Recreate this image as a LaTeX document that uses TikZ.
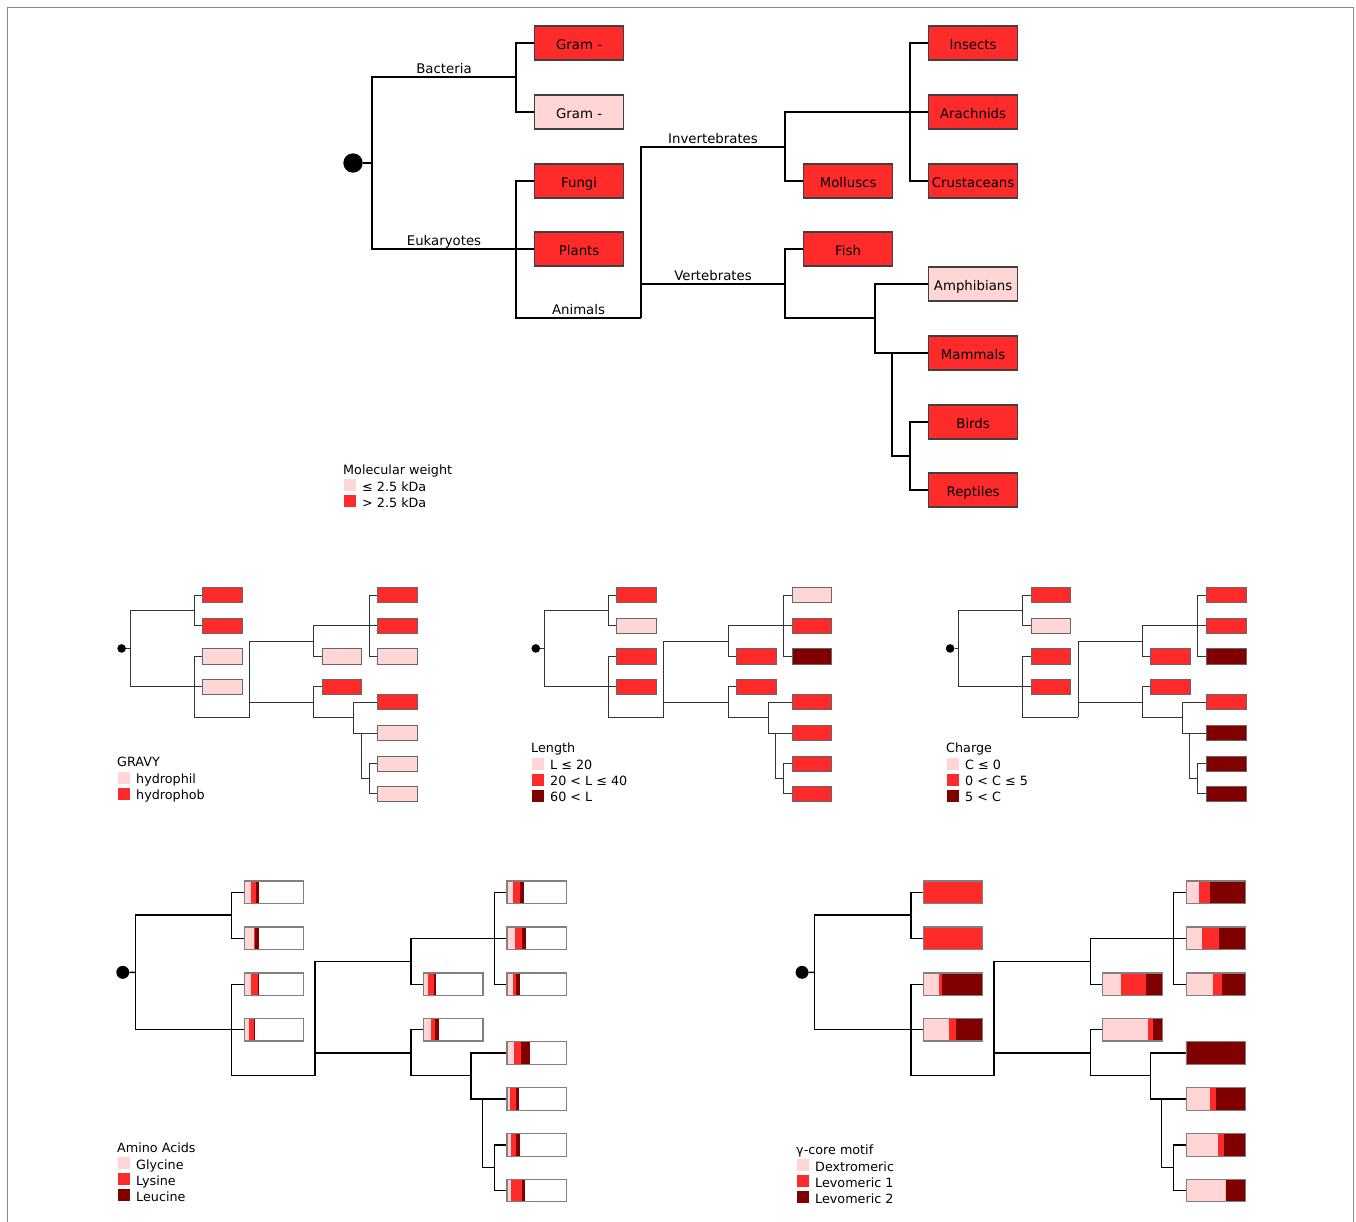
\documentclass[tikz,border=0pt]{standalone}
\usepackage{fontspec}
\setmainfont{DejaVu Sans}
\usetikzlibrary{calc}

\definecolor{pale}{HTML}{FFD5D5}
\definecolor{bright}{HTML}{FF2A2A}
\definecolor{deep}{HTML}{800000}

\tikzset{
  branch/.style={line width=2pt, black},
  leafline/.style={draw=black!75, line width=1.2pt},
  leafbox/.style={shape=rectangle, anchor=west, inner sep=0pt, minimum width=#1*89pt, minimum height=#1*34pt, leafline},
  rootdot/.style={shape=circle, fill=black, inner sep=0pt, minimum size=#1*19.4pt},
  leaftext/.style={font=\fontsize{13.3}{16}\selectfont, text height=12pt, text depth=0pt},
  branchlabel/.style={font=\fontsize{13.3}{16}\selectfont, anchor=base, inner sep=0pt, yshift=4pt},
  keytitle/.style={font=\fontsize{12.75}{15}\selectfont, anchor=base west, inner sep=0pt},
  keyswatch/.style={shape=rectangle, anchor=north west, inner sep=0pt, minimum size=12pt},
  keytext/.style={font=\fontsize{12.75}{15}\selectfont, anchor=base west, inner sep=0pt}
}

% the tree, in the units of the large copy
\newcommand{\phylotree}[1]{%
  \coordinate (root) at (372,163);
  \coordinate (bacteria) at (516,77);
  \coordinate (eukaryotes) at (516,249);
  \coordinate (animals) at (641,318);
  \coordinate (invertebrates) at (785,147);
  \coordinate (vertebrates) at (785,284);
  \coordinate (arthropods) at (910,112);
  \coordinate (tetrapods) at (875,318);
  \coordinate (amniotes) at (892,353);
  \coordinate (sauropsids) at (910,456);
  % leaves (west side of the boxes)
  \coordinate (gramA) at (534,43);
  \coordinate (gramB) at (534,112);
  \coordinate (fungi) at (534,181);
  \coordinate (plants) at (534,249);
  \coordinate (molluscs) at (803,181);
  \coordinate (fish) at (803,249);
  \coordinate (insects) at (928,43);
  \coordinate (arachnids) at (928,112);
  \coordinate (crustaceans) at (928,181);
  \coordinate (amphibians) at (928,284);
  \coordinate (mammals) at (928,353);
  \coordinate (birds) at (928,422);
  \coordinate (reptiles) at (928,490);
  \node[rootdot=#1] (rootdot) at (353,163) {};
  \draw[branch] (rootdot) -- (root);
  \foreach \from/\to in {root/bacteria, root/eukaryotes, bacteria/gramA, bacteria/gramB,
      eukaryotes/fungi, eukaryotes/plants, eukaryotes/animals, animals/invertebrates,
      animals/vertebrates, invertebrates/arthropods, invertebrates/molluscs,
      arthropods/insects, arthropods/arachnids, arthropods/crustaceans,
      vertebrates/fish, vertebrates/tetrapods, tetrapods/amphibians, tetrapods/amniotes,
      amniotes/mammals, amniotes/sauropsids, sauropsids/birds, sauropsids/reptiles}
    \draw[branch] (\from) |- (\to);
}

% stacked bars in the leaves of the large-scale copies
\newcommand{\barleaves}[1]{%
  \foreach \leaf/\first/\second/\third in {#1} {
    \fill[pale] (\leaf) ++(0,-17) rectangle ++(\first,34);
    \fill[bright] (\leaf) ++(\first,-17) rectangle ++(\second,34);
    \fill[deep] (\leaf) ++(\first+\second,-17) rectangle ++(\third,34);
    \node[leafbox=0.667] (\leaf-box) at (\leaf) {};
  }
}

% legend: name, title position, title, tone/text list
\newcommand{\keybox}[4]{%
  \node[keytitle] (#1) at #2 {#3};
  \foreach \tone/\txt [count=\i] in {#4} {
    \node[keyswatch, fill=\tone] (#1-sw\i) at ($(#1.base west)+(0.5,5+16*\i-16)$) {};
    \node[keytext] (#1-txt\i) at ($(#1.base west)+(19,17+16*\i-16)$) {\txt};
  }
}

\begin{document}
\begin{tikzpicture}[x=1pt, y=-1pt]

\useasboundingbox (0,0) rectangle (1356,1221);
\draw[black!45, line width=1.5pt] (7.5,1230) |- (1353.5,7.5) -- (1353.5,1230);

% molecular weight
\begin{scope}[name prefix=mw-]
\phylotree{1}
\foreach \leaf/\tone/\leaftxt in {gramA/bright/Gram -, gramB/pale/Gram -, fungi/bright/Fungi,
    plants/bright/Plants, molluscs/bright/Molluscs, insects/bright/Insects,
    arachnids/bright/Arachnids, crustaceans/bright/Crustaceans, fish/bright/Fish,
    amphibians/pale/Amphibians, mammals/bright/Mammals, birds/bright/Birds, reptiles/bright/Reptiles}
  \node[leafbox=1, leaftext, fill=\tone] (\leaf-box) at (\leaf) {\leaftxt};
\path (root) |- (bacteria) node[branchlabel, pos=0.75] (bacteria-lbl) {Bacteria};
\path (root) |- (eukaryotes) node[branchlabel, pos=0.75] (eukaryotes-lbl) {Eukaryotes};
\path (eukaryotes) |- (animals) node[branchlabel, pos=0.75] (animals-lbl) {Animals};
\path (animals) |- (invertebrates) node[branchlabel, pos=0.75] (invertebrates-lbl) {Invertebrates};
\path (animals) |- (vertebrates) node[branchlabel, pos=0.75] (vertebrates-lbl) {Vertebrates};
\end{scope}
\keybox{molwt}{(343,474)}{Molecular weight}{pale/≤ 2.5 kDa, bright/> 2.5 kDa}

% GRAVY
\begin{scope}[shift={(-35.5,575.9)}, scale=0.445, name prefix=gravy-,
    branch/.style={line width=1pt, black!80}, leafline/.style={draw=black!60, line width=0.9pt}]
\phylotree{0.445}
\foreach \leaf/\tone in {gramA/bright, gramB/bright, fungi/pale, plants/pale, molluscs/pale,
    insects/bright, arachnids/bright, crustaceans/pale, fish/bright, amphibians/bright,
    mammals/pale, birds/pale, reptiles/pale}
  \node[leafbox=0.445, fill=\tone] (\leaf-box) at (\leaf) {};
\end{scope}
\keybox{gravy}{(117,766.5)}{GRAVY}{pale/hydrophil, bright/hydrophob}

% length
\begin{scope}[shift={(378.7,575.9)}, scale=0.445, name prefix=length-,
    branch/.style={line width=1pt, black!80}, leafline/.style={draw=black!60, line width=0.9pt}]
\phylotree{0.445}
\foreach \leaf/\tone in {gramA/bright, gramB/pale, fungi/bright, plants/bright, molluscs/bright,
    insects/pale, arachnids/bright, crustaceans/deep, fish/bright, amphibians/bright,
    mammals/bright, birds/bright, reptiles/bright}
  \node[leafbox=0.445, fill=\tone] (\leaf-box) at (\leaf) {};
\end{scope}
\keybox{length}{(531,752.5)}{Length}{pale/L ≤ 20, bright/20 < L ≤ 40, deep/60 < L}

% charge
\begin{scope}[shift={(793,575.9)}, scale=0.445, name prefix=charge-,
    branch/.style={line width=1pt, black!80}, leafline/.style={draw=black!60, line width=0.9pt}]
\phylotree{0.445}
\foreach \leaf/\tone in {gramA/bright, gramB/pale, fungi/bright, plants/bright, molluscs/bright,
    insects/bright, arachnids/bright, crustaceans/deep, fish/bright, amphibians/bright,
    mammals/deep, birds/deep, reptiles/deep}
  \node[leafbox=0.445, fill=\tone] (\leaf-box) at (\leaf) {};
\end{scope}
\keybox{charge}{(946,752.5)}{Charge}{pale/C ≤ 0, bright/0 < C ≤ 5, deep/5 < C}

% amino acids
\begin{scope}[shift={(-112.7,863.6)}, scale=0.667, name prefix=amino-,
    branch/.style={line width=1.4pt, black}, leafline/.style={draw=black!50, line width=1.2pt}]
\phylotree{0.667}
\barleaves{gramA/11.5/7.5/4.5, gramB/16/0.5/6, fungi/11.5/9.5/2, plants/8.5/6.5/2.5,
    molluscs/8/8.5/3, insects/10/10/6, arachnids/13/10.5/6.5, crustaceans/10/4.5/5.5,
    fish/11.5/6.5/6.5, amphibians/11/11/13, mammals/6/9/4.5, birds/7/8/5, reptiles/7.5/16/5}
\end{scope}
\keybox{amino}{(117,1152)}{Amino Acids}{pale/Glycine, bright/Lysine, deep/Leucine}

% gamma-core motif
\begin{scope}[shift={(566.6,863.6)}, scale=0.667, name prefix=gamma-,
    branch/.style={line width=1.4pt, black}, leafline/.style={draw=black!50, line width=1.2pt}]
\phylotree{0.667}
\barleaves{gramA/0/89/0, gramB/0/89/0, fungi/25/4.5/59.5, plants/40/9.5/39.5,
    molluscs/27.5/38.5/23, insects/20/16.5/52.5, arachnids/25/25/39, crustaceans/41.5/13.5/34,
    fish/69/6.5/13.5, amphibians/0/0/89, mammals/36/9/44, birds/48.5/8.5/32, reptiles/60/0/29}
\end{scope}
\keybox{gamma}{(796,1154)}{γ-core motif}{pale/Dextromeric, bright/Levomeric 1, deep/Levomeric 2}

\end{tikzpicture}
\end{document}
